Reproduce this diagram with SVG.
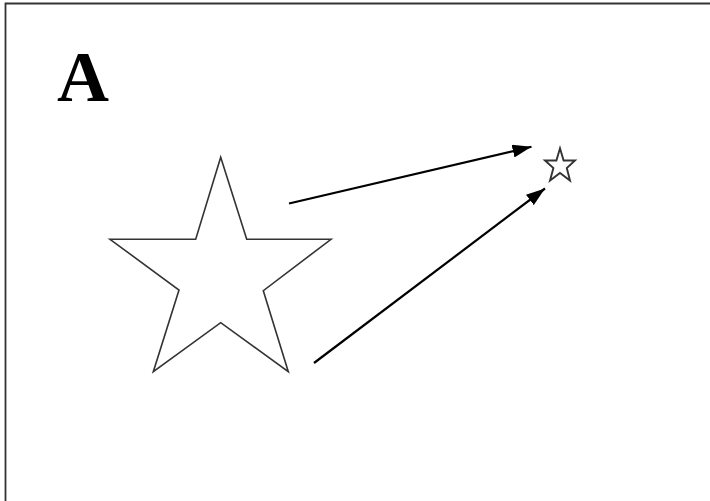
<svg xmlns="http://www.w3.org/2000/svg" width="710" height="501" viewBox="0 0 710 501">
<style>
.star{fill:#fff;stroke:#333;stroke-width:1.6;stroke-linejoin:miter}
.arr{stroke:#000;stroke-width:2.2;fill:none}
.lbl{font-family:"Liberation Serif",serif;font-weight:bold;font-size:72px;fill:#000}
</style>
<defs>
<marker id="ah2" viewBox="0 0 10 10" refX="10" refY="5" markerWidth="19" markerHeight="13" markerUnits="userSpaceOnUse" orient="auto" preserveAspectRatio="none">
<path d="M0,0 L10,5 L0,10 Z" fill="#000"/>
</marker>
</defs>
<rect width="710" height="501" fill="#fff"/>
<path d="M5.5,501 V3.5 H710" fill="none" stroke="#333" stroke-width="1.8"/>
<g id="label-A"><text class="lbl" x="57" y="101">A</text></g>
<g id="big-star">
<polygon class="star" points="220.7,157.3 246.7,239.3 331,239.3 263.3,290.7 288.3,371.7 220.7,322.7 153.3,371.7 179,290 110,239.3 195.7,239.3"/>
</g>
<g id="small-star">
<polygon class="star" style="stroke-width:1.9" points="560,148.3 563.6,160.5 575,160.5 566.8,168.1 570,180.5 560,173 550,180.5 553.4,168 545,160.5 556.4,160.5"/>
</g>
<g id="connectors">
<line class="arr" x1="289" y1="203.5" x2="531.5" y2="146.8" marker-end="url(#ah2)"/>
<line class="arr" x1="314" y1="363" x2="545" y2="188.5" marker-end="url(#ah2)"/>
</g>
</svg>
